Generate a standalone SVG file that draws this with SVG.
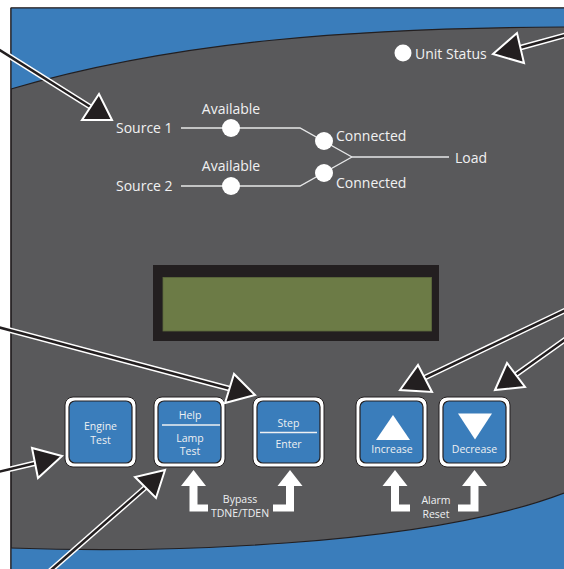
<svg xmlns="http://www.w3.org/2000/svg" width="564" height="569" viewBox="0 0 564 569">
  <style>
    .lbl { font-family: "Open Sans", "Liberation Sans", sans-serif; font-size: 14px; fill: #f1f1f2; }
    .sm { font-family: "Open Sans", "Liberation Sans", sans-serif; font-size: 10.5px; fill: #eef0f2; text-anchor: middle; }
    .wire { fill: none; stroke: #e6e7e8; stroke-width: 1.4; }
    .dot { fill: #ffffff; }
    .btn-o { fill: #ffffff; stroke: #231f20; stroke-width: 1; }
    .btn-i { fill: #3a7dbb; stroke: #231f20; stroke-width: 1.2; }
    .rule { stroke: #eef0f2; stroke-width: 1.3; }
    .lead-w { fill: none; stroke: #ffffff; stroke-width: 5.5; }
    .lead-k { fill: none; stroke: #231f20; stroke-width: 2.6; }
    .head { fill: #231f20; stroke: #ffffff; stroke-width: 2; stroke-linejoin: miter; }
    .bend { fill: #ffffff; }
  </style>

  <rect width="564" height="569" fill="#ffffff"/>

  <!-- front panel -->
  <g id="panel">
    <rect x="11" y="8" width="560" height="570" fill="#59595b" stroke="#231f20" stroke-width="1.2"/>
    <path d="M11,8 H564 V27 C360,28 180,40 11,89 Z" fill="#3a7dbb"/>
    <path d="M564,27 C360,28 180,40 11,89" fill="none" stroke="#231f20" stroke-width="1.2"/>
    <path d="M11,548 C150,553 420,548 564,493 V569 H11 Z" fill="#3a7dbb"/>
    <path d="M11,548 C150,553 420,548 564,493" fill="none" stroke="#231f20" stroke-width="1.2"/>
    <line x1="11" y1="8" x2="564" y2="8" stroke="#231f20" stroke-width="1.2"/>
    <line x1="11" y1="8" x2="11" y2="569" stroke="#231f20" stroke-width="1.2"/>
  </g>

  <!-- status indicator -->
  <g id="unit-status">
    <circle class="dot" cx="403" cy="53" r="8.5"/>
    <text class="lbl" x="415" y="58.5">Unit Status</text>
  </g>

  <!-- source / load mimic -->
  <g id="mimic-wires">
    <path class="wire" d="M181,128 H300 L352,157"/>
    <path class="wire" d="M181,186 H300 L352,157"/>
    <path class="wire" d="M352,157 H449"/>
  </g>
  <g id="source1">
    <text class="lbl" x="116" y="133">Source 1</text>
    <text class="lbl" x="231" y="114" text-anchor="middle">Available</text>
    <circle class="dot" cx="231" cy="128" r="9"/>
  </g>
  <g id="source2">
    <text class="lbl" x="116" y="191">Source 2</text>
    <text class="lbl" x="231" y="171" text-anchor="middle">Available</text>
    <circle class="dot" cx="231" cy="186" r="9"/>
  </g>
  <g id="connected1">
    <circle class="dot" cx="324" cy="141" r="9"/>
    <text class="lbl" x="336" y="141">Connected</text>
  </g>
  <g id="connected2">
    <circle class="dot" cx="324" cy="173" r="9"/>
    <text class="lbl" x="336" y="188">Connected</text>
  </g>
  <g id="load">
    <text class="lbl" x="455" y="163">Load</text>
  </g>

  <!-- display -->
  <g id="lcd">
    <rect x="153" y="265" width="286" height="76" fill="#231f20"/>
    <rect x="163" y="277.5" width="268.5" height="53.5" fill="#6c7b46" stroke="#5d6a3c" stroke-width="0.8"/>
  </g>

  <!-- keypad -->
  <g id="btn-engine-test">
    <rect class="btn-o" x="65" y="397" width="71" height="70" rx="8"/>
    <rect class="btn-i" x="69" y="401" width="63" height="62" rx="6"/>
    <text class="sm" x="100.5" y="429.5">Engine</text>
    <text class="sm" x="100.5" y="443.5">Test</text>
  </g>
  <g id="btn-help">
    <rect class="btn-o" x="154" y="397" width="71" height="70" rx="8"/>
    <rect class="btn-i" x="158" y="401" width="63" height="62" rx="6"/>
    <text class="sm" x="190" y="418.5">Help</text>
    <line class="rule" x1="162" y1="425" x2="220" y2="425"/>
    <text class="sm" x="190" y="441.5">Lamp</text>
    <text class="sm" x="190" y="454.5">Test</text>
  </g>
  <g id="btn-step">
    <rect class="btn-o" x="253" y="397" width="71" height="70" rx="8"/>
    <rect class="btn-i" x="257" y="401" width="63" height="62" rx="6"/>
    <text class="sm" x="288.5" y="426.5">Step</text>
    <line class="rule" x1="260" y1="432.5" x2="317" y2="432.5"/>
    <text class="sm" x="288.5" y="448">Enter</text>
  </g>
  <g id="btn-increase">
    <rect class="btn-o" x="356" y="397" width="71" height="70" rx="8"/>
    <rect class="btn-i" x="360" y="401" width="63" height="62" rx="6"/>
    <polygon points="376,440 393,415 410,440" fill="#ffffff"/>
    <text class="sm" x="392" y="453">Increase</text>
  </g>
  <g id="btn-decrease">
    <rect class="btn-o" x="439" y="397" width="71" height="70" rx="8"/>
    <rect class="btn-i" x="443" y="401" width="63" height="62" rx="6"/>
    <polygon points="458,413.5 492,413.5 475,439.5" fill="#ffffff"/>
    <text class="sm" x="474.5" y="453">Decrease</text>
  </g>

  <!-- key combinations -->
  <g id="combo-bypass">
    <polygon class="bend" points="193.5,470 206,486 197.5,486 197.5,504.5 208,504.5 208,511.5 189.5,511.5 189.5,486 181,486"/>
    <polygon class="bend" points="290,470 302.5,486 294,486 294,511.5 273,511.5 273,504.5 286,504.5 286,486 277.5,486"/>
    <text class="sm" x="240" y="503">Bypass</text>
    <text class="sm" x="240" y="517">TDNE/TDEN</text>
  </g>
  <g id="combo-alarm-reset">
    <polygon class="bend" points="395,470 407.5,486 399,486 399,504.5 410,504.5 410,511.5 391,511.5 391,486 382.5,486"/>
    <polygon class="bend" points="474.5,470 487,486 478.5,486 478.5,511.5 458,511.5 458,504.5 470.5,504.5 470.5,486 462,486"/>
    <text class="sm" x="436" y="503.5">Alarm</text>
    <text class="sm" x="436" y="517.5">Reset</text>
  </g>

  <!-- callout leaders -->
  <g id="callouts">
    <g class="leads-w">
      <path class="lead-w" d="M-2,49 L92,108"/>
      <path class="lead-w" d="M566,35 L519,48"/>
      <path class="lead-w" d="M-2,327 L231,389"/>
      <path class="lead-w" d="M-2,472 L36,463"/>
      <path class="lead-w" d="M50,571 L147,486"/>
      <path class="lead-w" d="M566,310 L424,378"/>
      <path class="lead-w" d="M566,339 L514,376"/>
    </g>
    <g class="leads-k">
      <path class="lead-k" d="M-2,49 L92,108"/>
      <path class="lead-k" d="M566,35 L519,48"/>
      <path class="lead-k" d="M-2,327 L231,389"/>
      <path class="lead-k" d="M-2,472 L36,463"/>
      <path class="lead-k" d="M50,571 L147,486"/>
      <path class="lead-k" d="M566,310 L424,378"/>
      <path class="lead-k" d="M566,339 L514,376"/>
    </g>
    <polygon class="head" points="112,120 99,94 82,120"/>
    <polygon class="head" points="493,54 517,33 524,63"/>
    <polygon class="head" points="255,395 234,374 225,403"/>
    <polygon class="head" points="62,456 32,448 38,478"/>
    <polygon class="head" points="165,470 135,477 156,498"/>
    <polygon class="head" points="400,390 418,365 432,392"/>
    <polygon class="head" points="495,390 507,363 525,387"/>
  </g>
</svg>
